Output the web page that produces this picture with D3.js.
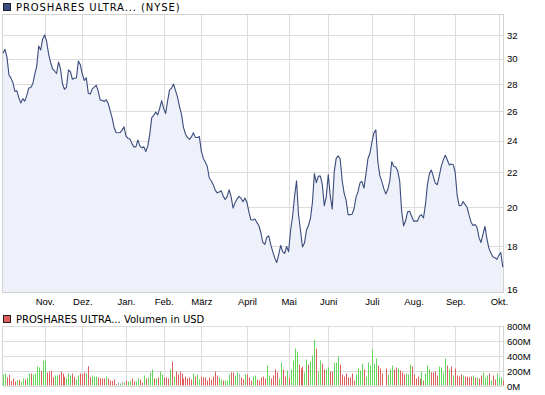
<!DOCTYPE html>
<head>
<meta charset="utf-8">
<style>
  body { margin: 0; background: #fff; }
  svg { display: block; font-family: 'DejaVu Sans', sans-serif; }
  .grid line { stroke: #dcdcdc; stroke-width: 1; shape-rendering: crispEdges; }
  .frame { fill: none; stroke: #d2d2d2; stroke-width: 1; shape-rendering: crispEdges; }
  .tick text { font-size: 9.5px; fill: #000; }
  .legend { font-size: 10px; fill: #000; }
</style>
</head>
<body>
<svg id="chart" width="545" height="395"></svg>
<script src="https://cdnjs.cloudflare.com/ajax/libs/d3/7.8.5/d3.min.js"></script>
<script>
// month labels and the trading-day index where each month starts
const months = ["Nov.", "Dez.", "Jan.", "Feb.", "März", "April", "Mai", "Juni", "Juli", "Aug.", "Sep.", "Okt."];
const monthStart = [21, 40, 62, 81, 100, 123, 144, 164, 186, 207, 228, 250];
const priceTicks = [16, 18, 20, 22, 24, 26, 28, 30, 32];
const volumeTicks = [0, 200, 400, 600, 800];

// daily close (USD)
const price = [
  30.44, 30.78, 30.13, 28.70, 28.45, 28.10, 27.45, 27.48, 26.96, 26.59,
  26.90, 26.72, 27.14, 27.70, 27.73, 28.00, 28.75, 29.37, 31.05, 30.72,
  31.66, 32.00, 31.44, 30.38, 29.69, 29.17, 29.01, 28.81, 29.73, 29.17,
  28.00, 27.60, 27.77, 29.09, 28.95, 28.36, 28.44, 28.46, 29.80, 29.51,
  28.77, 28.27, 28.48, 27.31, 27.25, 27.63, 27.76, 27.90, 27.46, 26.80,
  26.78, 26.69, 26.83, 26.57, 26.06, 25.54, 24.89, 24.53, 24.51, 24.53,
  24.67, 24.92, 24.31, 24.14, 24.10, 23.80, 23.59, 23.59, 24.04, 23.65,
  23.53, 23.60, 23.29, 23.64, 24.41, 25.55, 25.71, 25.93, 25.74, 26.20,
  26.76, 26.20, 25.84, 26.74, 27.56, 27.69, 27.99, 27.50, 27.02, 26.33,
  25.78, 24.88, 24.42, 24.21, 24.08, 24.24, 24.51, 24.21, 24.20, 24.26,
  23.32, 22.86, 22.63, 22.36, 21.67, 21.51, 21.28, 20.97, 20.81, 20.86,
  20.93, 20.64, 20.44, 20.60, 20.99, 20.60, 19.96, 20.25, 20.47, 20.61,
  20.51, 20.31, 20.52, 20.26, 19.75, 19.34, 19.33, 19.38, 19.20, 19.04,
  18.68, 18.18, 18.08, 18.44, 18.51, 18.07, 17.73, 17.43, 17.21, 17.59,
  18.03, 17.73, 17.64, 17.98, 17.73, 18.78, 19.51, 20.60, 21.51, 19.61,
  18.78, 17.96, 18.15, 18.79, 19.04, 19.40, 20.26, 21.93, 21.40, 21.78,
  21.79, 21.28, 20.10, 20.60, 21.87, 20.65, 19.91, 22.04, 22.86, 23.02,
  22.84, 21.54, 20.79, 20.40, 19.61, 19.61, 19.63, 19.93, 20.57, 20.88,
  21.39, 21.46, 21.08, 21.90, 22.84, 23.18, 23.89, 24.51, 24.71, 22.65,
  21.81, 21.47, 21.05, 20.75, 21.00, 21.49, 22.65, 22.37, 22.33, 22.10,
  21.51, 19.80, 19.02, 19.30, 19.76, 19.79, 19.54, 19.27, 19.27, 19.27,
  19.53, 19.61, 19.43, 20.15, 21.28, 21.93, 22.14, 21.75, 21.36, 21.28,
  21.81, 22.38, 22.77, 23.06, 22.78, 22.46, 22.51, 22.47, 22.00, 20.65,
  20.10, 20.11, 20.32, 20.15, 20.01, 19.58, 19.21, 19.04, 19.09, 18.94,
  18.42, 18.18, 18.58, 18.99, 18.36, 17.89, 17.66, 17.48, 17.44, 17.36,
  17.55, 17.69, 17.00
];

// daily volume in million USD
const volume = [
  160, 173, 120, 155, 75, 107, 67, 84, 89, 62,
  107, 93, 115, 173, 173, 160, 173, 266, 253, 209,
  346, 346, 187, 200, 209, 124, 147, 147, 160, 200,
  173, 129, 107, 173, 147, 173, 129, 93, 147, 173,
  164, 187, 173, 271, 124, 147, 133, 133, 120, 107,
  107, 107, 133, 107, 80, 75, 93, 31, 53, 40,
  67, 58, 80, 67, 75, 107, 67, 67, 107, 93,
  53, 147, 107, 120, 187, 227, 107, 107, 120, 200,
  160, 120, 120, 107, 227, 333, 133, 200, 160, 200,
  173, 107, 133, 107, 120, 93, 173, 133, 160, 93,
  133, 120, 120, 80, 120, 93, 133, 200, 147, 120,
  93, 80, 80, 80, 160, 187, 187, 147, 187, 173,
  120, 93, 160, 160, 120, 80, 133, 147, 93, 80,
  120, 133, 107, 280, 147, 107, 147, 227, 187, 107,
  320, 227, 133, 213, 120, 227, 346, 506, 466, 293,
  240, 266, 187, 360, 293, 333, 413, 626, 506, 200,
  346, 306, 227, 227, 253, 200, 200, 320, 320, 400,
  293, 160, 133, 173, 120, 120, 173, 80, 160, 240,
  213, 306, 227, 133, 320, 280, 493, 306, 373, 280,
  240, 173, 13, 240, 160, 227, 280, 227, 253, 240,
  213, 187, 160, 173, 160, 293, 266, 160, 107, 133,
  107, 200, 80, 173, 280, 227, 187, 187, 200, 147,
  266, 253, 187, 373, 280, 227, 266, 147, 240, 147,
  133, 160, 147, 133, 133, 120, 133, 147, 120, 120,
  107, 147, 187, 120, 147, 173, 80, 147, 93, 173,
  120, 120, 80
];

// day move: u = up, d = down, n = unchanged
const moves = (
  "uudddddudu" + "uduuduuuud" + "uudddduudd" + "dduuudduud" + "ddudduuudd" +
  "ddudddddnu" + "nuduudduud" + "duduuududu" + "udddududdd" + "dddddduduu" +
  "dddddddddu" + "uduuudduun" + "dduddduudd" + "ddduuddddu" + "udduduuuud" +
  "dduuduuudu" + "udduudduuu" + "dddddddduu" + "uuduuuuuud" + "ddnduuuddu" +
  "ddduuudddd" + "duduuudddd" + "uuuudududd" + "dduddddudu" + "dduuududdu" +
  "uud"
).split("");

const svg = d3.select("#chart");
const left = 2.5, right = 503;
const pTop = 14.5, pBottom = 292.5;
const vTop = 326.5, vBottom = 386.5;

const x = d3.scaleLinear().domain([0, price.length - 1]).range([3, 502.8]);
const y = d3.scaleLog().domain([16, 32]).range([289.3, 35]);
const vy = d3.scaleLinear().domain([0, 800]).range([vBottom, vTop]);
const colors = { u: "#62d85a", d: "#dc5e5e", n: "#b4b4b4" };
const snap = v => Math.round(v) + 0.5;

// ---- price panel ----
const gp = svg.append("g");
const gridP = gp.append("g").attr("class", "grid");
gridP.selectAll(".h").data(priceTicks).join("line")
    .attr("x1", left).attr("x2", right)
    .attr("y1", d => snap(y(d))).attr("y2", d => snap(y(d)));
gridP.selectAll(".v").data(monthStart).join("line")
    .attr("x1", d => snap(x(d))).attr("x2", d => snap(x(d)))
    .attr("y1", pTop).attr("y2", pBottom);

gp.append("path")
    .datum(price)
    .attr("fill", "#eef1fa")
    .attr("d", d3.area().x((d, i) => x(i)).y0(pBottom).y1(d => y(d)));

gp.append("rect").attr("class", "frame")
    .attr("x", left).attr("y", pTop)
    .attr("width", right - left).attr("height", pBottom - pTop);

gp.append("path")
    .datum(price)
    .attr("fill", "none")
    .attr("stroke", "#3b4c7c")
    .attr("stroke-width", 1.1)
    .attr("stroke-linejoin", "round")
    .attr("d", d3.line().x((d, i) => x(i)).y(d => y(d)));

gp.append("g")
    .attr("transform", "translate(504,0)")
    .call(d3.axisRight(y).tickValues(priceTicks).tickSize(0).tickPadding(3).tickFormat(d3.format("d")))
    .call(g => g.select(".domain").remove());

gp.append("g")
    .attr("transform", "translate(0," + (pBottom + 4) + ")")
    .call(d3.axisBottom(x).tickValues(monthStart).tickSize(0).tickPadding(2).tickFormat((d, i) => months[i]))
    .call(g => g.select(".domain").remove());

// ---- volume panel ----
const gv = svg.append("g");
const gridV = gv.append("g").attr("class", "grid");
gridV.selectAll(".h").data(volumeTicks).join("line")
    .attr("x1", left).attr("x2", right)
    .attr("y1", d => snap(vy(d)) - 1).attr("y2", d => snap(vy(d)) - 1);
gridV.selectAll(".v").data(monthStart).join("line")
    .attr("x1", d => snap(x(d))).attr("x2", d => snap(x(d)))
    .attr("y1", vTop - 1).attr("y2", vBottom - 1);
gv.append("line").attr("class", "frame")
    .attr("x1", left).attr("x2", left).attr("y1", vTop - 1).attr("y2", vBottom - 1);
gv.append("line").attr("class", "frame")
    .attr("x1", right).attr("x2", right).attr("y1", vTop - 1).attr("y2", vBottom - 1);

gv.selectAll(".bar").data(volume).join("rect")
    .attr("x", (d, i) => Math.round(x(i)))
    .attr("y", d => vy(d))
    .attr("width", 1)
    .attr("height", d => vBottom - 1 - vy(d))
    .attr("fill", (d, i) => colors[moves[i]]);

gv.append("g")
    .attr("transform", "translate(504,0)")
    .call(d3.axisRight(vy).tickValues(volumeTicks).tickSize(0).tickPadding(3).tickFormat(d => d + "M"))
    .call(g => g.select(".domain").remove());

// ---- legends ----
svg.append("rect").attr("x", 3.5).attr("y", 3.5).attr("width", 7).attr("height", 7)
    .attr("fill", "#3d4f80").attr("stroke", "#1c1c2c");
svg.append("text").attr("class", "legend").attr("x", 16).attr("y", 11)
    .attr("letter-spacing", "0.9px")
    .text("PROSHARES ULTRA... (NYSE)");
svg.append("rect").attr("x", 3.5).attr("y", 315.5).attr("width", 7).attr("height", 7)
    .attr("fill", "#dc6060").attr("stroke", "#2a1a1a");
svg.append("text").attr("class", "legend").attr("x", 16).attr("y", 323)
    .text("PROSHARES ULTRA... Volumen in USD");
</script>
</body>
